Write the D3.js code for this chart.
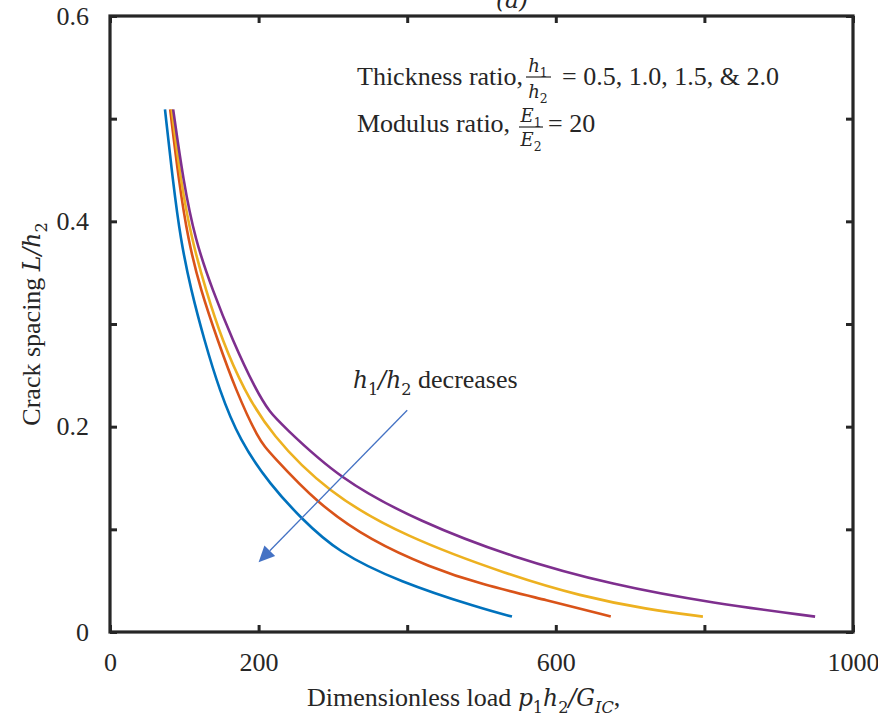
<!DOCTYPE html>
<html>
<head>
<meta charset="utf-8">
<script src="https://cdn.jsdelivr.net/npm/d3@7"></script>
<style>
  html, body { margin: 0; padding: 0; background: #ffffff; }
  svg { display: block; }
</style>
</head>
<body>
<script>
// ---------------- DATA ----------------
const xTickValues = [0, 200, 400, 600, 800, 1000];
const xTickLabels = ["0", "200", "", "600", "", "1000"];
const yTickValues = [0, 0.1, 0.2, 0.3, 0.4, 0.5, 0.6];
const yTickLabels = ["0", "", "0.2", "", "0.4", "", "0.6"];

const seriesNames = ["h1/h2 = 0.5", "h1/h2 = 1.0", "h1/h2 = 1.5", "h1/h2 = 2.0"];

// Dimensionless load p1h2/GIC  and crack spacing L/h2, per thickness ratio
const load05    = [74, 84.5, 95, 109, 127, 147, 174, 216, 257, 306, 389, 499, 541];
const spacing05 = [0.509, 0.440, 0.382, 0.333, 0.284, 0.236, 0.187, 0.143, 0.111, 0.078, 0.049, 0.023, 0.015];

const load10    = [81, 92.5, 105, 122, 145, 169, 200, 216, 279, 351, 431, 499, 588, 674];
const spacing10 = [0.509, 0.440, 0.382, 0.333, 0.284, 0.236, 0.187, 0.174, 0.125, 0.089, 0.063, 0.0465, 0.031, 0.015];

const load15    = [83, 95, 110, 129, 151, 180, 216, 292.5, 396, 539, 633, 723, 798];
const spacing15 = [0.509, 0.440, 0.382, 0.333, 0.284, 0.236, 0.193, 0.136, 0.093, 0.055, 0.035, 0.022, 0.015];

const load20    = [85, 98.5, 114.5, 138, 165, 196, 216, 230, 308, 418, 540, 678, 812, 949];
const spacing20 = [0.509, 0.440, 0.382, 0.333, 0.284, 0.236, 0.213, 0.203, 0.149, 0.107, 0.073, 0.0455, 0.028, 0.015];

// annotation arrow (data coordinates)
const arrowStart = [400, 0.216];
const arrowEnd   = [200, 0.068];

// ---------------- STYLE ----------------
const seriesColors = ["#0072BD", "#D95319", "#EDB120", "#7E2F8E"];
const axisColor = "#262626";
const serif = "'Liberation Serif', 'Times New Roman', serif";
const mathFont = "'DejaVu Serif', serif";

const W = 878, H = 719;
const svg = d3.select("body").append("svg").attr("width", W).attr("height", H);

const x = d3.scaleLinear().domain([0, 1000]).range([110, 853]);
const y = d3.scaleLinear().domain([0, 0.6]).range([632, 16]);

// ---------------- CURVES ----------------
const series = [
  [load05, spacing05],
  [load10, spacing10],
  [load15, spacing15],
  [load20, spacing20]
].map(([xs, ys], i) => ({ name: seriesNames[i], pts: xs.map((v, j) => [v, ys[j]]) }));

const line = d3.line().x(d => x(d[0])).y(d => y(d[1])).curve(d3.curveBasis);

svg.append("g").selectAll("path").data(series).join("path")
  .attr("d", d => line(d.pts))
  .attr("fill", "none")
  .attr("stroke", (d, i) => seriesColors[i])
  .attr("stroke-width", 2.6)
  .attr("stroke-linecap", "butt");

// ---------------- AXES ----------------
function styleAxis(g) {
  g.select(".domain").remove();
  g.selectAll(".tick line").attr("stroke", axisColor).attr("stroke-width", 3);
  g.selectAll(".tick text").attr("fill", axisColor)
    .attr("font-family", serif).attr("font-size", 26);
}

svg.append("g").attr("transform", "translate(0,632)")
  .call(d3.axisBottom(x).tickValues(xTickValues).tickFormat((d, i) => xTickLabels[i])
    .tickSizeInner(-7).tickSizeOuter(0).tickPadding(21))
  .call(styleAxis);

svg.append("g").attr("transform", "translate(0,16)")
  .call(d3.axisTop(x).tickValues(xTickValues).tickFormat("")
    .tickSizeInner(-7).tickSizeOuter(0))
  .call(styleAxis);

svg.append("g").attr("transform", "translate(110,0)")
  .call(d3.axisLeft(y).tickValues(yTickValues).tickFormat((d, i) => yTickLabels[i])
    .tickSizeInner(-7).tickSizeOuter(0).tickPadding(21))
  .call(styleAxis);

svg.append("g").attr("transform", "translate(853,0)")
  .call(d3.axisRight(y).tickValues(yTickValues).tickFormat("")
    .tickSizeInner(-7).tickSizeOuter(0))
  .call(styleAxis);

// frame
svg.append("rect")
  .attr("x", x(0)).attr("y", y(0.6))
  .attr("width", x(1000) - x(0)).attr("height", y(0) - y(0.6))
  .attr("fill", "none").attr("stroke", axisColor).attr("stroke-width", 3.2);

// ---------------- TEXT HELPERS ----------------
// parts: [text, kind] kind: "r" roman, "i" italic math, "s" subscript italic, "n" subscript upright math
function richText(g, xPos, yPos, size, parts, anchor) {
  const t = g.append("text").attr("x", xPos).attr("y", yPos)
    .attr("fill", axisColor).attr("font-size", size)
    .attr("text-anchor", anchor || "start");
  let shifted = 0;
  parts.forEach(([txt, kind]) => {
    const ts = t.append("tspan").text(txt);
    const sub = (kind === "s" || kind === "n");
    const want = sub ? Math.round(size * 0.25) : 0;
    ts.attr("dy", want - shifted);
    shifted = want;
    if (kind === "r") {
      ts.attr("font-family", serif);
    } else if (kind === "i") {
      ts.attr("font-family", mathFont).attr("font-style", "italic").attr("font-size", size * 0.9);
    } else if (kind === "s") {
      ts.attr("font-family", mathFont).attr("font-style", "italic").attr("font-size", size * 0.62);
    } else if (kind === "n") {
      ts.attr("font-family", mathFont).attr("font-size", size * 0.62);
    }
  });
  return t;
}

// ---------------- LEGEND TEXT ----------------
const ann = svg.append("g");
richText(ann, 357, 85, 26, [["Thickness ratio,", "r"]]);
// fraction h1/h2
richText(ann, 538, 72, 20, [["h", "i"], ["1", "n"]], "middle");
ann.append("line").attr("x1", 526).attr("x2", 551).attr("y1", 77).attr("y2", 77)
  .attr("stroke", axisColor).attr("stroke-width", 1.2);
richText(ann, 538, 98, 20, [["h", "i"], ["2", "n"]], "middle");
richText(ann, 562, 85, 26, [["= 0.5, 1.0, 1.5, & 2.0", "r"]]);

richText(ann, 357, 132, 26, [["Modulus ratio,", "r"]]);
richText(ann, 531, 122, 20, [["E", "i"], ["1", "n"]], "middle");
ann.append("line").attr("x1", 519).attr("x2", 543).attr("y1", 127).attr("y2", 127)
  .attr("stroke", axisColor).attr("stroke-width", 1.2);
richText(ann, 531, 146, 20, [["E", "i"], ["2", "n"]], "middle");
richText(ann, 548, 132, 26, [["= 20", "r"]]);

// ---------------- ARROW ANNOTATION ----------------
const ax0 = x(arrowStart[0]), ay0 = y(arrowStart[1]);
const ax1 = x(arrowEnd[0]), ay1 = y(arrowEnd[1]);
const dx = ax1 - ax0, dy = ay1 - ay0, len = Math.hypot(dx, dy);
const ux = dx / len, uy = dy / len;
const headLen = 16, headHalf = 7.5;
const bx = ax1 - ux * headLen, by = ay1 - uy * headLen;
svg.append("line").attr("x1", ax0).attr("y1", ay0).attr("x2", bx).attr("y2", by)
  .attr("stroke", "#4472C4").attr("stroke-width", 1.3);
svg.append("path")
  .attr("d", `M${ax1},${ay1} L${bx - uy * headHalf},${by + ux * headHalf} L${bx + uy * headHalf},${by - ux * headHalf} Z`)
  .attr("fill", "#4472C4");

richText(ann, 353, 388, 26, [["h", "i"], ["1", "n"], ["/", "i"], ["h", "i"], ["2", "n"], ["  decreases", "r"]]);

// ---------------- AXIS LABELS ----------------
richText(svg, 307, 706, 26, [["Dimensionless load ", "r"], ["p", "i"], ["1", "n"], ["h", "i"], ["2", "n"],
  ["/", "i"], ["G", "i"], ["IC", "s"], [",", "r"]]);

const yl = richText(svg, 0, 0, 26, [["Crack spacing  ", "r"], ["L", "i"], ["/", "i"], ["h", "i"], ["2", "n"]], "middle");
yl.attr("transform", "translate(40,324) rotate(-90)");

// title (cut at top, as in the original figure)
richText(svg, 512, 8, 26, [["(a)", "i"]], "middle");
</script>
</body>
</html>
